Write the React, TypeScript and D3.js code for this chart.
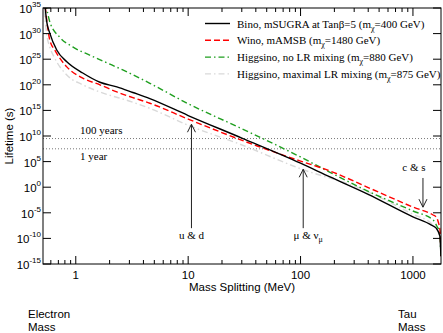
import React from "react";
import * as d3 from "d3";

// lifetimes are stored as log10(seconds)
const binoDm = [0.525, 0.55, 0.587, 0.677, 0.832, 1.154, 1.64, 2.32, 3.22, 4.56, 10, 30, 100, 183, 400, 1000, 1462, 1610, 1740, 1760, 1777];
const binoLog = [37, 32.5, 30.1, 26.8, 24.5, 22.3, 20.5, 19.6, 18.5, 17.3, 14.0, 9.6, 4.7, 2.0, -1.4, -5.8, -7.4, -8.0, -9.6, -11.7, -13.5];

const winoDm = [0.525, 0.56, 0.587, 0.65, 0.832, 1.154, 1.64, 2.32, 3.22, 4.56, 10, 41.7, 100, 183, 400, 1000, 1511, 1610, 1680, 1740, 1777];
const winoLog = [37, 31.5, 28.75, 26.8, 23.5, 21.3, 20.0, 18.6, 17.5, 16.4, 13.3, 8.0, 5.1, 3.16, -0.07, -3.87, -5.43, -5.8, -6.8, -8.36, -13.5];

const higgsDm = [0.54, 0.587, 0.72, 0.94, 1.33, 1.89, 2.62, 3.71, 4.56, 10, 28.9, 100, 183, 400, 1000, 1511, 1650, 1740, 1760, 1777];
const higgsLog = [36, 32.3, 29.3, 27.4, 25.8, 24.3, 22.9, 21.3, 20.3, 16.3, 11.6, 5.9, 2.9, -0.8, -4.65, -6.4, -7.8, -8.9, -11.7, -13.8];

const higgsMaxDm = [0.515, 0.55, 0.587, 0.65, 0.832, 1.154, 1.64, 3.22, 4.56, 10, 28.9, 100, 338, 1000, 1500, 1740, 1777];
const higgsMaxLog = [37, 30, 27.4, 25.2, 21.9, 20.0, 18.6, 16.6, 15.4, 12.1, 8.4, 3.6, -0.2, -5.3, -7.3, -9.5, -13.5];

const seriesNames = ["Bino, mSUGRA at Tan\u03b2=5 (m", "Wino, mAMSB (m", "Higgsino, no LR mixing (m", "Higgsino, maximal LR mixing (m"];
const seriesMasses = ["=400 GeV)", "=1480 GeV)", "=880 GeV)", "=875 GeV)"];
const seriesColors = ["#000000", "#ff0000", "#1f9f1f", "#d9d9d9"];
const seriesDash = ["none", "6,3", "6,3,1.5,3", "6,3,1.5,3"];

const xMajor = [1, 10, 100, 1000];
const yMajor = [-15, -10, -5, 0, 5, 10, 15, 20, 25, 30, 35];

const refLog = [9.5, 7.5];
const refLabels = ["100 years", "1 year"];

// arrows: mass splitting, tip, tail (log10 s)
const arrowDm = [10.7, 105.6, 1228];
const arrowTip = [12.3, 3.5, -3.9];
const arrowTail = [-8.0, -8.0, 1.8];

function App() {
  const width = 443;
  const height = 333;
  const M = { top: 8, right: 2, bottom: 69, left: 43 };
  const x0 = M.left;
  const x1 = width - M.right;
  const y0 = height - M.bottom;
  const y1 = M.top;

  const x = d3.scaleLog().domain([0.511, 1777]).range([x0, x1]);
  const y = d3.scaleLog().domain([1e-15, 1e35]).range([y0, y1]);

  const line = d3
    .line<[number, number]>()
    .x((d) => x(d[0]))
    .y((d) => y(Math.pow(10, d[1])))
    .curve(d3.curveMonotoneX);

  const series = [
    [binoDm, binoLog],
    [winoDm, winoLog],
    [higgsDm, higgsLog],
    [higgsMaxDm, higgsMaxLog],
  ].map(([dm, lg]) => dm.map((v, i) => [v, lg[i]] as [number, number]));

  const xMinor: number[] = [];
  [0.1, 1, 10, 100, 1000].forEach((dec) => {
    for (let k = 2; k <= 9; k++) {
      const v = k * dec;
      if (v > 0.511 && v < 1777) xMinor.push(v);
    }
  });

  const sans = "'Liberation Sans', Arial, sans-serif";
  const serif = "'Liberation Serif', 'Times New Roman', serif";
  const order = [3, 2, 1, 0];

  return (
    <svg
      width={width}
      height={height}
      style={{ position: "absolute", left: 0, top: 0, background: "#fff" }}
    >
      <defs>
        <clipPath id="plot">
          <rect x={x0} y={y1} width={x1 - x0} height={y0 - y1} />
        </clipPath>
      </defs>

      {refLog.map((r, i) => (
        <line
          key={i}
          x1={x0}
          x2={x1}
          y1={y(Math.pow(10, r))}
          y2={y(Math.pow(10, r))}
          stroke="#777"
          strokeWidth={1}
          strokeDasharray="1,2"
        />
      ))}
      <text x={80} y={y(Math.pow(10, refLog[0])) - 5} fontFamily={serif} fontSize={11}>
        {refLabels[0]}
      </text>
      <text x={80} y={y(Math.pow(10, refLog[1])) + 11} fontFamily={serif} fontSize={11}>
        {refLabels[1]}
      </text>

      <g clipPath="url(#plot)">
        {order.map((i) => (
          <path
            key={i}
            d={line(series[i]) ?? ""}
            fill="none"
            stroke={seriesColors[i]}
            strokeWidth={1.4}
            strokeDasharray={seriesDash[i]}
          />
        ))}
      </g>

      {/* arrows */}
      {arrowDm.map((dm, i) => {
        const ax = x(dm);
        const ty = y(Math.pow(10, arrowTip[i]));
        const by = y(Math.pow(10, arrowTail[i]));
        const dir = by > ty ? 1 : -1;
        return (
          <g key={i} stroke="#222" strokeWidth={1} fill="none">
            <line x1={ax} x2={ax} y1={ty} y2={by} />
            <polyline points={`${ax - 4},${ty + dir * 8} ${ax},${ty} ${ax + 4},${ty + dir * 8}`} />
          </g>
        );
      })}
      <text x={x(arrowDm[0])} y={239} textAnchor="middle" fontFamily={serif} fontSize={11}>
        u &amp; d
      </text>
      <text x={x(arrowDm[1]) + 5} y={239} textAnchor="middle" fontFamily={serif} fontSize={11}>
        {"\u03bc & \u03bd"}
        <tspan fontSize={8} dy={3}>{"\u03bc"}</tspan>
      </text>
      <text x={x(arrowDm[2]) - 9} y={171} textAnchor="middle" fontFamily={serif} fontSize={11}>
        c &amp; s
      </text>

      {/* frame */}
      <rect x={x0} y={y1} width={x1 - x0} height={y0 - y1} fill="none" stroke="#000" strokeWidth={1} />

      {/* x ticks */}
      {xMajor.map((v) => (
        <g key={v}>
          <line x1={x(v)} x2={x(v)} y1={y0} y2={y0 - 8} stroke="#000" />
          <line x1={x(v)} x2={x(v)} y1={y1} y2={y1 + 8} stroke="#000" />
          <text x={x(v)} y={y0 + 15} textAnchor="middle" fontFamily={sans} fontSize={11.5}>
            {v}
          </text>
        </g>
      ))}
      {xMinor.map((v) => (
        <g key={v}>
          <line x1={x(v)} x2={x(v)} y1={y0} y2={y0 - 4} stroke="#000" />
          <line x1={x(v)} x2={x(v)} y1={y1} y2={y1 + 4} stroke="#000" />
        </g>
      ))}

      {/* y ticks */}
      {yMajor.map((e) => {
        const ty = y(Math.pow(10, e));
        return (
          <g key={e}>
            <line x1={x0} x2={x0 + 8} y1={ty} y2={ty} stroke="#000" />
            <line x1={x1} x2={x1 - 8} y1={ty} y2={ty} stroke="#000" />
            <text x={41} y={ty + 5} textAnchor="end" fontFamily={sans} fontSize={11.5}>
              10
              <tspan fontSize={8} dy={-6}>
                {e}
              </tspan>
            </text>
          </g>
        );
      })}

      <text
        x={(x0 + x1) / 2}
        y={y0 + 27}
        textAnchor="middle"
        fontFamily={sans}
        fontSize={11.5}
      >
        Mass Splitting (MeV)
      </text>
      <text
        transform={`translate(13,${(y0 + y1) / 2}) rotate(-90)`}
        textAnchor="middle"
        fontFamily={sans}
        fontSize={11.5}
      >
        Lifetime (s)
      </text>

      <text x={28} y={318} fontFamily={sans} fontSize={11.5}>Electron</text>
      <text x={28} y={331} fontFamily={sans} fontSize={11.5}>Mass</text>
      <text x={398} y={318} fontFamily={sans} fontSize={11.5}>Tau</text>
      <text x={398} y={331} fontFamily={sans} fontSize={11.5}>Mass</text>

      {/* legend */}
      {seriesNames.map((name, i) => {
        const ly = 23.5 + i * 16.8;
        return (
          <g key={i}>
            <line
              x1={205}
              x2={230}
              y1={ly}
              y2={ly}
              stroke={seriesColors[i]}
              strokeWidth={1.4}
              strokeDasharray={seriesDash[i]}
            />
            <text x={237} y={ly + 4} fontFamily={serif} fontSize={11}>
              {name}
              <tspan fontSize={8} dy={3}>{"\u03c7"}</tspan>
              <tspan dy={-3}>{seriesMasses[i]}</tspan>
            </text>
          </g>
        );
      })}
    </svg>
  );
}

export default App;
